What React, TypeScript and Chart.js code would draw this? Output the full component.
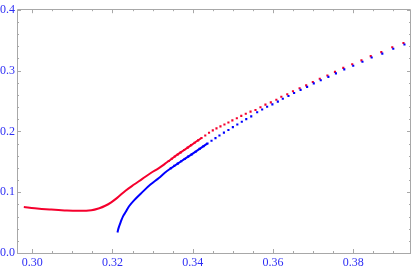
import React, { useEffect, useRef } from "react";
import { Chart, registerables } from "chart.js";

Chart.register(...registerables);

// Red curve: dense (continuous) part
const redLineX = [0.2979, 0.30062, 0.30433, 0.30804, 0.31176, 0.31473, 0.31671, 0.31819, 0.31968, 0.32116, 0.32332, 0.32537, 0.32743, 0.32946, 0.33156, 0.33304, 0.33403, 0.33552, 0.337, 0.33874, 0.34047, 0.3422];
const redLineY = [0.0758, 0.0737, 0.0716, 0.07, 0.0693, 0.0704, 0.0737, 0.0777, 0.0834, 0.0907, 0.1028, 0.1126, 0.1218, 0.1312, 0.1396, 0.1466, 0.1514, 0.1587, 0.1655, 0.1734, 0.1814, 0.1891];

// Red curve: sparse sampled points
const redDotX = [0.33403, 0.33478, 0.33552, 0.33626, 0.337, 0.33787, 0.33874, 0.3396, 0.34047, 0.34134, 0.3422, 0.34312, 0.34406, 0.345, 0.34592, 0.34691, 0.3479, 0.34889, 0.34988, 0.35099, 0.3521, 0.35322, 0.35441, 0.35564, 0.35688, 0.35812, 0.35946, 0.36084, 0.36208, 0.36356, 0.36498, 0.36663, 0.36827, 0.36993, 0.37166, 0.37356, 0.37545, 0.37752, 0.37975, 0.38205, 0.38436, 0.387, 0.38973, 0.39252];
const redDotY = [0.1514, 0.1551, 0.1587, 0.1621, 0.1655, 0.1694, 0.1734, 0.1775, 0.1814, 0.1853, 0.1891, 0.1932, 0.1977, 0.2016, 0.2049, 0.2083, 0.2113, 0.2147, 0.2181, 0.2217, 0.2256, 0.2291, 0.2326, 0.2353, 0.2397, 0.244, 0.2478, 0.2521, 0.257, 0.2612, 0.2661, 0.2709, 0.2758, 0.2813, 0.2866, 0.292, 0.298, 0.3045, 0.3104, 0.3169, 0.3239, 0.3304, 0.3385, 0.3454];

// Blue curve: dense (continuous) part
const blueLineX = [0.32124, 0.32153, 0.32208, 0.32265, 0.32332, 0.32413, 0.32537, 0.32743, 0.32946, 0.33156, 0.33304, 0.33453, 0.33626, 0.338, 0.33973, 0.34171, 0.34369];
const blueLineY = [0.0337, 0.0413, 0.0515, 0.0607, 0.0677, 0.0769, 0.0866, 0.1001, 0.1126, 0.1234, 0.132, 0.1393, 0.147, 0.1547, 0.1623, 0.1712, 0.1802];

// Blue curve: sparse sampled points
const blueDotX = [0.33453, 0.3354, 0.33626, 0.33713, 0.338, 0.33886, 0.33973, 0.34072, 0.34171, 0.3427, 0.34369, 0.34468, 0.34567, 0.34666, 0.34777, 0.34889, 0.35, 0.35111, 0.35223, 0.35334, 0.35458, 0.35606, 0.3573, 0.35854, 0.35985, 0.36121, 0.36245, 0.36386, 0.36527, 0.36688, 0.36851, 0.37017, 0.37191, 0.37381, 0.37569, 0.37777, 0.38, 0.3823, 0.3846, 0.38725, 0.38998, 0.39277];
const blueDotY = [0.1393, 0.1433, 0.147, 0.1509, 0.1547, 0.1585, 0.1623, 0.1666, 0.1712, 0.1757, 0.1802, 0.1846, 0.189, 0.1932, 0.1979, 0.2024, 0.207, 0.2113, 0.2159, 0.2202, 0.2248, 0.2316, 0.2361, 0.2405, 0.2445, 0.2489, 0.2538, 0.2583, 0.2632, 0.2683, 0.2732, 0.2789, 0.2842, 0.2896, 0.2955, 0.302, 0.308, 0.3145, 0.3215, 0.3279, 0.336, 0.343];

// Axes
const xTickValues = [0.3, 0.32, 0.34, 0.36, 0.38];
const xTickLabels = ["0.30", "0.32", "0.34", "0.36", "0.38"];
const xMinorTicks = [0.305, 0.31, 0.315, 0.325, 0.33, 0.335, 0.345, 0.35, 0.355, 0.365, 0.37, 0.375, 0.385, 0.39];
const yTickValues = [0, 0.1, 0.2, 0.3, 0.4];
const yTickLabels = ["0.0", "0.1", "0.2", "0.3", "0.4"];
const yMinorTicks = [0.02, 0.04, 0.06, 0.08, 0.12, 0.14, 0.16, 0.18, 0.22, 0.24, 0.26, 0.28, 0.32, 0.34, 0.36, 0.38];

const X_MIN = 0.2962;
const X_MAX = 0.3944;
const Y_MIN = 0;
const Y_MAX = 0.401;

const RED = "#f5002d";
const BLUE = "#0000ff";
const LABEL = "#2e2ef5";
const FRAME = "#a8a8a8";

const pairs = (xs: number[], ys: number[]) => xs.map((x, i) => ({ x, y: ys[i] }));

const framePlugin = {
  id: "mmaFrame",
  beforeDatasetsDraw(chart: any) {
    const { ctx, chartArea } = chart;
    const { left, right, top, bottom } = chartArea;
    const xs = chart.scales.x;
    const ys = chart.scales.y;
    ctx.save();
    ctx.strokeStyle = FRAME;
    ctx.lineWidth = 1;
    ctx.beginPath();
    ctx.rect(Math.round(left) + 0.5, Math.round(top) + 0.5, Math.round(right - left) - 1, Math.round(bottom - top));
    ctx.stroke();
    const vt = (v: number, len: number) => {
      const p = Math.round(xs.getPixelForValue(v)) + 0.5;
      ctx.moveTo(p, bottom);
      ctx.lineTo(p, bottom - len);
      ctx.moveTo(p, top);
      ctx.lineTo(p, top + len);
    };
    const ht = (v: number, len: number) => {
      const p = Math.round(ys.getPixelForValue(v)) + 0.5;
      ctx.moveTo(left, p);
      ctx.lineTo(left + len, p);
      ctx.moveTo(right, p);
      ctx.lineTo(right - len, p);
    };
    ctx.beginPath();
    xTickValues.forEach((v) => vt(v, 4));
    xMinorTicks.forEach((v) => vt(v, 2));
    yTickValues.forEach((v) => ht(v, 4));
    yMinorTicks.forEach((v) => ht(v, 2));
    ctx.stroke();
    ctx.restore();
  },
};

export default function App() {
  const ref = useRef<HTMLCanvasElement | null>(null);
  useEffect(() => {
    document.body.style.margin = "0";
    const canvas = ref.current;
    if (!canvas) return;
    const chart = new Chart(canvas, {
      type: "scatter",
      data: {
        datasets: [
          {
            data: pairs(blueDotX, blueDotY),
            backgroundColor: BLUE,
            borderWidth: 0,
            pointStyle: "rect",
            pointRadius: 1.5,
            showLine: false,
          },
          {
            data: pairs(redDotX, redDotY),
            backgroundColor: RED,
            borderWidth: 0,
            pointStyle: "rect",
            pointRadius: 1.5,
            showLine: false,
          },
          {
            data: pairs(blueLineX, blueLineY),
            borderColor: BLUE,
            borderWidth: 2,
            pointRadius: 0,
            showLine: true,
            tension: 0.4,
          },
          {
            data: pairs(redLineX, redLineY),
            borderColor: RED,
            borderWidth: 2,
            pointRadius: 0,
            showLine: true,
            tension: 0.4,
          },
        ],
      },
      options: {
        animation: false,
        responsive: false,
        layout: { padding: { top: 6, right: 1, left: 0, bottom: 0 } },
        plugins: { legend: { display: false }, tooltip: { enabled: false } },
        scales: {
          x: {
            type: "linear",
            min: X_MIN,
            max: X_MAX,
            grid: { display: false, drawTicks: false },
            border: { display: false },
            afterBuildTicks: (s: any) => {
              s.ticks = xTickValues.map((v) => ({ value: v }));
            },
            afterFit: (s: any) => {
              s.height = 15;
            },
            ticks: {
              autoSkip: false,
              maxRotation: 0,
              padding: 3,
              color: LABEL,
              font: { family: "'Liberation Serif', 'DejaVu Serif', serif", size: 12 },
              callback: (_v: any, i: number) => xTickLabels[i],
            },
          },
          y: {
            type: "linear",
            min: Y_MIN,
            max: Y_MAX,
            grid: { display: false, drawTicks: false },
            border: { display: false },
            afterBuildTicks: (s: any) => {
              s.ticks = yTickValues.map((v) => ({ value: v }));
            },
            afterFit: (s: any) => {
              s.width = 17;
            },
            ticks: {
              autoSkip: false,
              padding: 2,
              color: LABEL,
              font: { family: "'Liberation Serif', 'DejaVu Serif', serif", size: 12 },
              callback: (_v: any, i: number) => yTickLabels[i],
            },
          },
        },
      },
      plugins: [framePlugin],
    } as any);
    return () => chart.destroy();
  }, []);
  return (
    <div style={{ position: "absolute", left: 0, top: 0, width: 415, height: 268 }}>
      <canvas ref={ref} width={415} height={268} style={{ display: "block" }} />
    </div>
  );
}
